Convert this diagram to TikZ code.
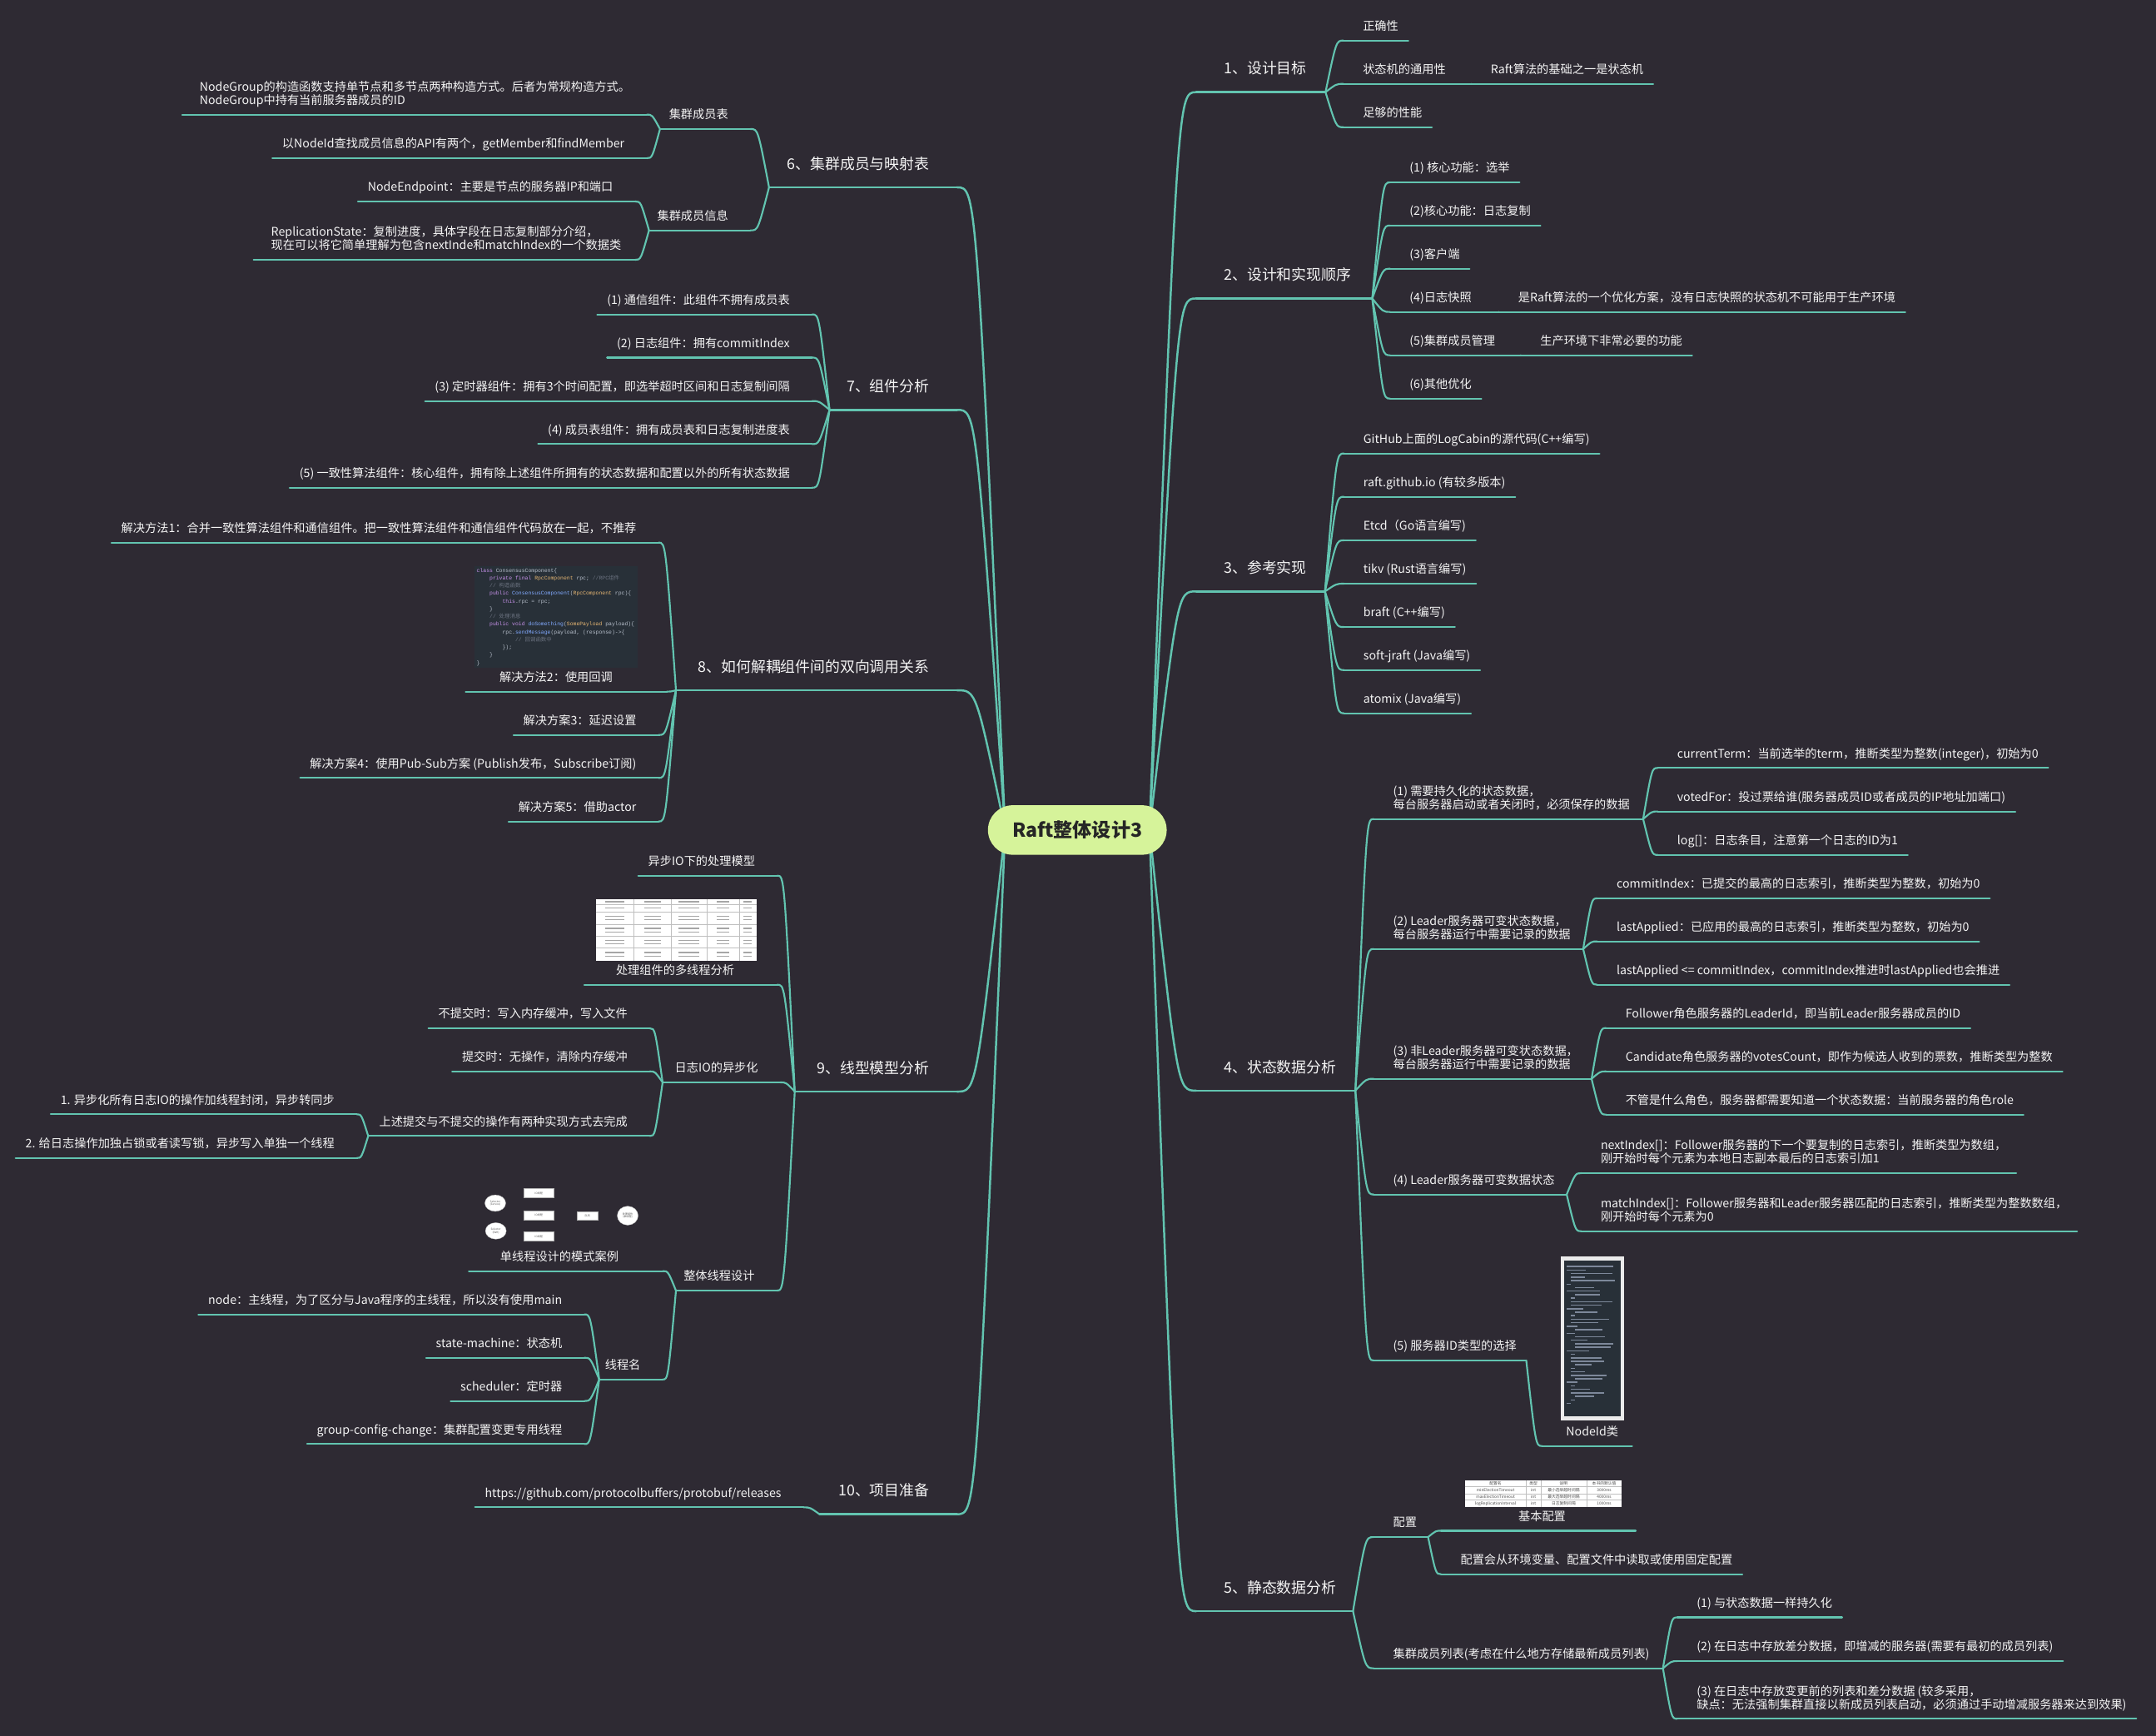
\documentclass[tikz,border=0pt]{standalone}
\usepackage{fontspec}
\setmainfont{Noto Sans CJK SC}
\newfontfamily\codefont{Liberation Mono}
\usetikzlibrary{calc}
\definecolor{bgc}{HTML}{2E2A33}
\definecolor{lnc}{HTML}{62C4B0}
\definecolor{rootc}{HTML}{D6F39A}
\definecolor{txc}{HTML}{F4F4F4}
\definecolor{codebg}{HTML}{283038}
\definecolor{kwc}{HTML}{C792EA}
\definecolor{fnc}{HTML}{82AAFF}
\definecolor{cmc}{HTML}{6B7280}
\definecolor{plc}{HTML}{B8C0CC}
\definecolor{tyc}{HTML}{E6B673}
\definecolor{codebar}{HTML}{7D889A}
\newcommand\lstrut{\rule[-2.5pt]{0pt}{3pt}}
\newcommand\ind{\hspace*{9.36pt}}

\tikzset{
  leaf/.style={inner sep=0pt, text=txc, font=\fontsize{8.6}{9.6}\selectfont, align=left},
  brtext/.style={inner sep=0pt, text=txc, font=\fontsize{10.8}{12.5}\selectfont},
  ul/.style={draw=lnc, line width=1.3pt, line cap=round},
  bul/.style={draw=lnc, line width=1.6pt, line cap=round},
  conn/.style={draw=lnc, line width=1.3pt, line cap=round,
    to path={let \p1=(\tikztostart), \p2=(\tikztotarget) in
      .. controls ({\x1+0.6*(\x2-\x1)},\y2) .. (\tikztotarget)}},
  trunk/.style={conn, line width=1.5pt},
  cell/.style={draw=black!25, line width=0.2pt},
  bar/.style={fill=black!35},
  tinytx/.style={inner sep=0pt, text=black!65, align=center, font=\fontsize{1.9}{2.2}\selectfont},
  tbltx/.style={inner sep=0pt, text=black!70, font=\fontsize{2.9}{3}\selectfont},
  shp/.style={fill=white, draw=black!30, line width=0.2pt},
}

\newcommand\RBr[4]{%
  \coordinate (#1i) at (870,#3);
  \coordinate (#1o) at (#2,#3);
  \node[brtext,anchor=south west] (#1) at (890,#3-10.5) {#4\lstrut};
  \draw[bul] (#1i) -- (#1o);
  \draw[trunk] (rootR) to (#1i);}
\newcommand\LBr[4]{%
  \coordinate (#1i) at (696,#3);
  \coordinate (#1o) at (#2,#3);
  \node[brtext,anchor=south east] (#1) at (676,#3-10.5) {#4\lstrut};
  \draw[bul] (#1i) -- (#1o);
  \draw[trunk] (rootL) to (#1i);}
\newcommand\RLeaf[5]{%
  \coordinate (#2i) at (#3,#4);
  \node[leaf,anchor=south west] (#2) at (#3+14,#4-4.7) {#5\lstrut};
  \draw[ul] (#2i) -- ($(#2.east|-#2i)+(7,0)$);
  \draw[conn] (#1o) to (#2i);}
\newcommand\LLeaf[5]{%
  \coordinate (#2i) at (#3,#4);
  \node[leaf,anchor=south east] (#2) at (#3-16,#4-4.7) {#5\lstrut};
  \draw[ul] (#2i) -- ($(#2.west|-#2i)+(-7,0)$);
  \draw[conn] (#1o) to (#2i);}
\newcommand\LLeafW[6]{%
  \coordinate (#2i) at (#3,#5);
  \node[leaf,anchor=south west] (#2) at (#4,#5-4.7) {#6\lstrut};
  \draw[ul] (#2i) -- (#4-12.5,#5);
  \draw[conn] (#1o) to (#2i);}
\newcommand\RPar[6]{%
  \coordinate (#2i) at (#3,#5);
  \coordinate (#2o) at (#4,#5);
  \node[leaf,anchor=south west] (#2) at (#3+14,#5-4.7) {#6\lstrut};
  \draw[ul] (#2i) -- (#2o);
  \draw[conn] (#1o) to (#2i);}
\newcommand\LPar[6]{%
  \coordinate (#2i) at (#3,#5);
  \coordinate (#2o) at (#4,#5);
  \node[leaf,anchor=south east] (#2) at (#3-16,#5-4.7) {#6\lstrut};
  \draw[ul] (#2i) -- (#2o);
  \draw[conn] (#1o) to (#2i);}

\begin{document}
\begin{tikzpicture}[x=1pt,y=-1pt]
\fill[bgc] (0,0) rectangle (1568,1262);
\useasboundingbox (0,0) rectangle (1568,1262);
\coordinate (rootR) at (836,603.5);
\coordinate (rootL) at (731,603.5);

% ---------- 1
\RBr{b1}{964}{67}{1、设计目标}
\RLeaf{b1}{c11}{977}{29.5}{正确性}
\RPar{b1}{c12}{977}{1070}{61}{状态机的通用性}
\RLeaf{c12}{c121}{1070}{61}{Raft算法的基础之一是状态机}
\RLeaf{b1}{c13}{977}{92.5}{足够的性能}

% ---------- 2
\RBr{b2}{998}{217}{2、设计和实现顺序}
\RLeaf{b2}{c21}{1011}{132.6}{(1) 核心功能：选举}
\RLeaf{b2}{c22}{1011}{164}{(2)核心功能：日志复制}
\RLeaf{b2}{c23}{1011}{195.4}{(3)客户端}
\RPar{b2}{c24}{1011}{1090}{226.8}{(4)日志快照}
\RLeaf{c24}{c241}{1090}{226.8}{是Raft算法的一个优化方案，没有日志快照的状态机不可能用于生产环境}
\RPar{b2}{c25}{1011}{1106}{258.3}{(5)集群成员管理}
\RLeaf{c25}{c251}{1106}{258.3}{生产环境下非常必要的功能}
\RLeaf{b2}{c26}{1011}{289.8}{(6)其他优化}

% ---------- 3
\RBr{b3}{963.6}{430}{3、参考实现}
\RLeaf{b3}{c31}{977.4}{329.7}{GitHub上面的LogCabin的源代码(C++编写)}
\RLeaf{b3}{c32}{977.4}{361.2}{raft.github.io (有较多版本)}
\RLeaf{b3}{c33}{977.4}{392.9}{Etcd（Go语言编写)}
\RLeaf{b3}{c34}{977.4}{424.4}{tikv (Rust语言编写)}
\RLeaf{b3}{c35}{977.4}{455.9}{braft (C++编写)}
\RLeaf{b3}{c36}{977.4}{487.2}{soft-jraft (Java编写)}
\RLeaf{b3}{c37}{977.4}{518.6}{atomix (Java编写)}

% ---------- 4
\RBr{b4}{985.7}{793}{4、状态数据分析}
\RPar{b4}{c41}{999}{1195}{595.5}{(1) 需要持久化的状态数据，\\每台服务器启动或者关闭时，必须保存的数据}
\RLeaf{c41}{c411}{1205.6}{558.4}{currentTerm：当前选举的term，推断类型为整数(integer)，初始为0}
\RLeaf{c41}{c412}{1205.6}{590}{votedFor：投过票给谁(服务器成员ID或者成员的IP地址加端口)}
\RLeaf{c41}{c413}{1205.6}{621.6}{log[]：日志条目，注意第一个日志的ID为1}
\RPar{b4}{c42}{999}{1151.4}{690}{(2) Leader服务器可变状态数据，\\每台服务器运行中需要记录的数据}
\RLeaf{c42}{c421}{1161.6}{653.2}{commitIndex：已提交的最高的日志索引，推断类型为整数，初始为0}
\RLeaf{c42}{c422}{1161.6}{684.5}{lastApplied：已应用的最高的日志索引，推断类型为整数，初始为0}
\RLeaf{c42}{c423}{1161.6}{716}{lastApplied <= commitIndex，commitIndex推进时lastApplied也会推进}
\RPar{b4}{c43}{999}{1157.5}{784.4}{(3) 非Leader服务器可变状态数据，\\每台服务器运行中需要记录的数据}
\RLeaf{c43}{c431}{1168}{747.5}{Follower角色服务器的LeaderId，即当前Leader服务器成员的ID}
\RLeaf{c43}{c432}{1168}{779}{Candidate角色服务器的votesCount，即作为候选人收到的票数，推断类型为整数}
\RLeaf{c43}{c433}{1168}{810.4}{不管是什么角色，服务器都需要知道一个状态数据：当前服务器的角色role}
\RPar{b4}{c44}{999}{1139.4}{868.5}{(4) Leader服务器可变数据状态}
\RLeaf{c44}{c441}{1150}{853}{nextIndex[]：Follower服务器的下一个要复制的日志索引，推断类型为数组，\\刚开始时每个元素为本地日志副本最后的日志索引加1}
\RLeaf{c44}{c442}{1150}{895.2}{matchIndex[]：Follower服务器和Leader服务器匹配的日志索引，推断类型为整数数组，\\刚开始时每个元素为0}
\RPar{b4}{c45}{999}{1110}{989.2}{(5) 服务器ID类型的选择}
% NodeId image
\coordinate (c451i) at (1121.5,1051.4);
\coordinate (c451o) at (1187,1051.4);
\fill[black!8] (1135,913.6) rectangle (1181,1033);
\fill[codebg] (1137.5,916.5) rectangle (1178.5,1030);
\foreach \i/\s/\w in {0/0/34,1/0/14,2/3/30,3/3/10,4/3/32,5/0/3,6/6/14,7/0/24,8/6/18,9/3/3,10/3/30,11/3/22,12/0/12,13/6/16,14/3/3,15/3/28,16/3/20,17/0/8,18/6/20,19/0/6,20/6/22,21/3/12,22/6/28,23/6/26,24/0/16,25/3/3,26/3/22,27/3/24,28/6/12,29/3/3,30/3/10,31/3/26,32/6/20,33/0/8,34/3/3,35/3/14,36/3/24,37/6/14,38/3/3,39/0/3}
  \fill[codebar] (1139.5+\s,920.5+2.55*\i) rectangle ++(\w,0.9);
\node[leaf,anchor=south] (c451) at (1158,1046.7) {NodeId类\lstrut};
\draw[ul] (c451i) -- (c451o);
\draw[conn] (c45o) to (c451i);

% ---------- 5
\RBr{b5}{984}{1171.5}{5、静态数据分析}
\RPar{b5}{c51}{999}{1038.6}{1117.6}{配置}
% config table image
\coordinate (c511i) at (1048,1113);
\coordinate (c511o) at (1189.6,1113);
\fill[white] (1065.3,1076.2) rectangle (1179.3,1095.8);
\foreach \x in {1110,1120.4,1154} \draw[cell] (\x,1076.2) -- (\x,1095.8);
\foreach \y in {1081,1085.9,1090.7} \draw[cell] (1065.3,\y) -- (1179.3,\y);
\node[tbltx] (t11) at (1087.65,1078.6) {配置名};
\node[tbltx] (t12) at (1115.2,1078.6) {类型};
\node[tbltx] (t13) at (1137.2,1078.6) {说明};
\node[tbltx] (t14) at (1166.65,1078.6) {本书的默认值};
\node[tbltx] (t21) at (1087.65,1083.45) {minElectionTimeout};
\node[tbltx] (t22) at (1115.2,1083.45) {int};
\node[tbltx] (t23) at (1137.2,1083.45) {最小选举超时间隔};
\node[tbltx] (t24) at (1166.65,1083.45) {3000ms};
\node[tbltx] (t31) at (1087.65,1088.3) {maxElectionTimeout};
\node[tbltx] (t32) at (1115.2,1088.3) {int};
\node[tbltx] (t33) at (1137.2,1088.3) {最大选举超时间隔};
\node[tbltx] (t34) at (1166.65,1088.3) {4000ms};
\node[tbltx] (t41) at (1087.65,1093.25) {logReplicationInterval};
\node[tbltx] (t42) at (1115.2,1093.25) {int};
\node[tbltx] (t43) at (1137.2,1093.25) {日志复制间隔};
\node[tbltx] (t44) at (1166.65,1093.25) {1000ms};
\node[leaf,anchor=south] (c511) at (1121.5,1108.3) {基本配置\lstrut};
\draw[ul] (c511i) -- (c511o);
\draw[conn] (c51o) to (c511i);
\RLeaf{c51}{c512}{1048}{1144.6}{配置会从环境变量、配置文件中读取或使用固定配置}
\RPar{b5}{c52}{999}{1209.4}{1213}{集群成员列表(考虑在什么地方存储最新成员列表)}
\RLeaf{c52}{c521}{1219.8}{1176}{(1) 与状态数据一样持久化}
\RLeaf{c52}{c522}{1219.8}{1207.8}{(2) 在日志中存放差分数据，即增减的服务器(需要有最初的成员列表)}
\RLeaf{c52}{c523}{1219.8}{1249.7}{(3) 在日志中存放变更前的列表和差分数据 (较多采用，\\缺点：无法强制集群直接以新成员列表启动，必须通过手动增减服务器来达到效果)}

% ---------- 6
\LBr{b6}{559.3}{136.2}{6、集群成员与映射表}
\LPar{b6}{c61}{545.8}{480}{93.8}{集群成员表}
\LLeafW{c61}{c611}{470.4}{145}{83.3}{NodeGroup的构造函数支持单节点和多节点两种构造方式。后者为常规构造方式。\\NodeGroup中持有当前服务器成员的ID}
\LLeaf{c61}{c612}{470.4}{115}{以NodeId查找成员信息的API有两个，getMember和findMember}
\LPar{b6}{c62}{545.8}{472}{167.5}{集群成员信息}
\LLeaf{c62}{c621}{462}{146.5}{NodeEndpoint：主要是节点的服务器IP和端口}
\LLeafW{c62}{c622}{462}{197}{188.9}{ReplicationState：复制进度，具体字段在日志复制部分介绍，\\现在可以将它简单理解为包含nextInde和matchIndex的一个数据类}

% ---------- 7
\LBr{b7}{603.3}{298}{7、组件分析}
\LLeaf{b7}{c71}{590.6}{228.6}{(1) 通信组件：此组件不拥有成员表}
\LLeaf{b7}{c72}{590.6}{260}{(2) 日志组件：拥有commitIndex}
\LLeaf{b7}{c73}{590.6}{291.6}{(3) 定时器组件：拥有3个时间配置，即选举超时区间和日志复制间隔}
\LLeaf{b7}{c74}{590.6}{322.9}{(4) 成员表组件：拥有成员表和日志复制进度表}
\LLeaf{b7}{c75}{590.6}{354.6}{(5) 一致性算法组件：核心组件，拥有除上述组件所拥有的状态数据和配置以外的所有状态数据}

% ---------- 8
\LBr{b8}{491.6}{501.9}{8、如何解耦组件间的双向调用关系}
\LLeaf{b8}{c81}{479}{394.5}{解决方法1：合并一致性算法组件和通信组件。把一致性算法组件和通信组件代码放在一起，不推荐}
\coordinate (c82i) at (485,502.9);
\coordinate (c82o) at (338.7,502.9);
\fill[codebg] (345,411.7) rectangle (464,485.3);
\node[anchor=north west, inner sep=0pt, align=left, text=plc, font=\codefont\fontsize{3.9}{5.6}\selectfont] (c82code) at (346.5,413) {%
{\color{kwc}class} ConsensusComponent\{\\
\ind{\color{kwc}private final} {\color{tyc}RpcComponent} rpc; {\color{cmc}//RPC{\rmfamily 组件}}\\
\ind{\color{cmc}// {\rmfamily 构造函数}}\\
\ind{\color{kwc}public} {\color{fnc}ConsensusComponent}({\color{tyc}RpcComponent} rpc)\{\\
\ind\ind{\color{kwc}this}.rpc = rpc;\\
\ind\}\\
\ind{\color{cmc}// {\rmfamily 处理消息}}\\
\ind{\color{kwc}public void} {\color{fnc}doSomething}({\color{tyc}SomePayload} payload)\{\\
\ind\ind rpc.{\color{fnc}sendMessage}(payload, (response)->\{\\
\ind\ind\ind{\color{cmc}// {\rmfamily 回调函数中}}\\
\ind\ind\});\\
\ind\}\\
\}};
\node[leaf,anchor=south] (c82) at (404.4,498.2) {解决方法2：使用回调\lstrut};
\draw[ul] (c82i) -- (c82o);
\draw[conn] (b8o) to (c82i);
\LLeaf{b8}{c83}{479}{534.4}{解决方案3：延迟设置}
\LLeaf{b8}{c84}{479}{565.6}{解决方案4：使用Pub-Sub方案 (Publish发布，Subscribe订阅)}
\LLeaf{b8}{c85}{479}{597.3}{解决方案5：借助actor}

% ---------- 9
\LBr{b9}{578}{793.7}{9、线型模型分析}
\LLeaf{b9}{c91}{565.3}{636.7}{异步IO下的处理模型}
% multithread table image
\coordinate (c92i) at (565.3,716);
\coordinate (c92o) at (424.9,716);
\fill[white] (433.2,653.8) rectangle (550.4,698.6);
\foreach \x in {461,487.8,514.3,537.4} \draw[cell] (\x,653.8) -- (\x,698.6);
\foreach \y in {657.4,662.9,672,680.7,689.2} \draw[cell] (433.2,\y) -- (550.4,\y);
\foreach \x/\w in {447.1/14,474.4/12,501/15,525.8/9,543.9/6}{
  \foreach \y in {655.6,660.2}
    \fill[bar] (\x-\w/2,\y-0.4) rectangle (\x+\w/2,\y+0.4);
  \foreach \y in {666.2,668.8,675.1,677.7,683.7,686.3,692.6,695.2}
    \fill[bar] (\x-\w/2,\y-0.4) rectangle (\x+\w/2,\y+0.4);
}
\node[leaf,anchor=south] (c92) at (491,711.3) {处理组件的多线程分析\lstrut};
\draw[ul] (c92i) -- (c92o);
\draw[conn] (b9o) to (c92i);
\LPar{b9}{c93}{567.5}{481.9}{787}{日志IO的异步化}
\LLeaf{c93}{c931}{472.6}{747.7}{不提交时：写入内存缓冲，写入文件}
\LLeaf{c93}{c932}{472.6}{779}{提交时：无操作，清除内存缓冲}
\LPar{c93}{c933}{472.6}{267.8}{826}{上述提交与不提交的操作有两种实现方式去完成}
\LLeaf{c933}{c9331}{259.5}{810.2}{1. 异步化所有日志IO的操作加线程封闭，异步转同步}
\LLeaf{c933}{c9332}{259.5}{842}{2. 给日志操作加独占锁或者读写锁，异步写入单独一个线程}
\LPar{b9}{c94}{565}{491.6}{938.4}{整体线程设计}
% single-thread diagram image
\coordinate (c941i) at (482,924.2);
\coordinate (c941o) at (341,924.2);
\filldraw[shp] (360.2,874.8) ellipse [x radius=7.6pt, y radius=6pt];
\filldraw[shp] (360.6,895) ellipse [x radius=7.6pt, y radius=6pt];
\filldraw[shp] (381,864.1) rectangle (402.6,870.8);
\filldraw[shp] (381,880.4) rectangle (402.6,887.1);
\filldraw[shp] (381,895.6) rectangle (402.6,902.4);
\filldraw[shp] (419.7,880.9) rectangle (434.9,887.3);
\filldraw[shp] (456.5,883.9) ellipse [x radius=7.6pt, y radius=6.9pt];
\node[tinytx] (d1) at (360.2,874.8) {Selector\\(Service)};
\node[tinytx] (d2) at (360.6,895) {Selector\\(Raft)};
\node[tinytx] (d3) at (391.8,867.45) {IO线程};
\node[tinytx] (d4) at (391.8,883.75) {IO线程};
\node[tinytx] (d5) at (391.8,899) {IO线程};
\node[tinytx] (d6) at (427.3,884.1) {队列};
\node[tinytx] (d7) at (456.5,883.9) {处理组件\\(单线程)};
\node[leaf,anchor=south] (c941) at (406.8,919.5) {单线程设计的模式案例\lstrut};
\draw[ul] (c941i) -- (c941o);
\draw[conn] (c94o) to (c941i);
\LPar{c94}{c942}{482}{435.8}{1003}{线程名}
\LLeaf{c942}{c9421}{425}{955.7}{node：主线程，为了区分与Java程序的主线程，所以没有使用main}
\LLeaf{c942}{c9422}{425}{987.2}{state-machine：状态机}
\LLeaf{c942}{c9423}{425}{1018.7}{scheduler：定时器}
\LLeaf{c942}{c9424}{425}{1050}{group-config-change：集群配置变更专用线程}

% ---------- 10
\LBr{b10}{596}{1101}{10、项目准备}
\LLeaf{b10}{c101}{584.4}{1096}{https://github.com/protocolbuffers/protobuf/releases}

% ---------- root
\node[fill=rootc, rounded corners=18pt, minimum width=130pt, minimum height=36pt, inner sep=0pt, text=black!85, font=\fontsize{14}{16}\selectfont\bfseries] (root) at (783.5,603.5) {Raft整体设计3};
\end{tikzpicture}
\end{document}
